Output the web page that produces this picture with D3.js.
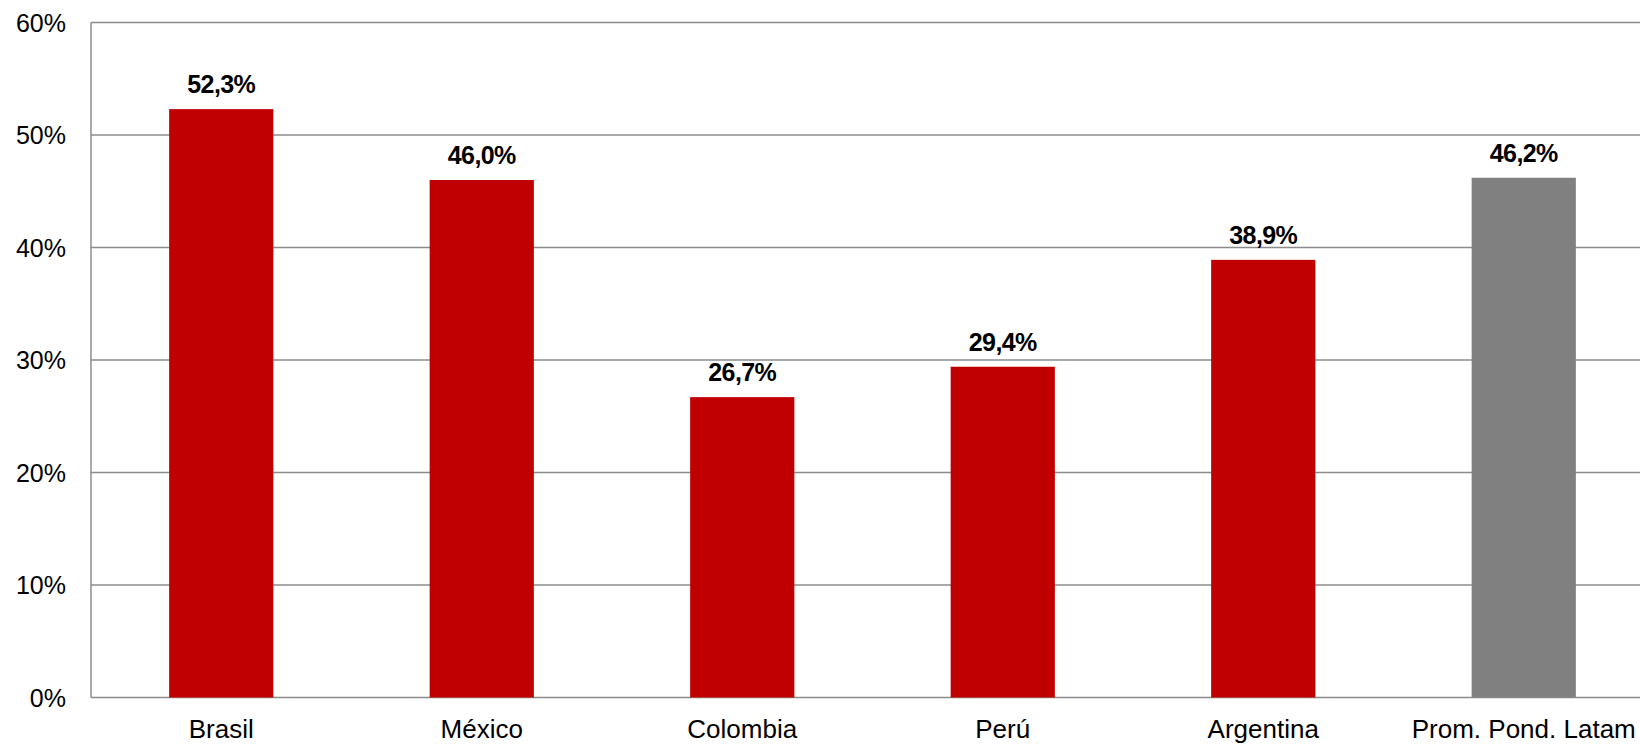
<!DOCTYPE html>
<html>
<head>
<meta charset="utf-8">
<script src="https://cdn.jsdelivr.net/npm/d3@7"></script>
<style>
  body { margin: 0; background: #fff; }
  svg { display: block; font-family: "Liberation Sans", Arial, sans-serif; }
</style>
</head>
<body>
<svg id="chart" width="1640" height="744"></svg>
<script>
const categories = ["Brasil", "México", "Colombia", "Perú", "Argentina", "Prom. Pond. Latam"];
const values = [52.3, 46.0, 26.7, 29.4, 38.9, 46.2];
const valueLabels = ["52,3%", "46,0%", "26,7%", "29,4%", "38,9%", "46,2%"];
const yTicks = [0, 10, 20, 30, 40, 50, 60];

const data = categories.map((c, i) => ({ name: c, value: values[i], label: valueLabels[i] }));

const svg = d3.select("#chart");
const plotLeft = 91, plotRight = 1654, plotTop = 22.5, plotBottom = 697.5;

const x = d3.scaleBand()
    .domain(categories)
    .range([plotLeft, plotRight])
    .paddingInner(0.6)
    .paddingOuter(0.3);

const y = d3.scaleLinear()
    .domain([0, 60])
    .range([plotBottom, plotTop]);

// gridlines
svg.append("g")
    .selectAll("line")
    .data(yTicks)
    .enter()
    .append("line")
    .attr("x1", plotLeft)
    .attr("x2", plotRight)
    .attr("y1", d => y(d))
    .attr("y2", d => y(d))
    .style("stroke", "#8c8c8c")
    .style("stroke-width", "1.5px");

// left axis line
svg.append("line")
    .attr("x1", plotLeft).attr("x2", plotLeft)
    .attr("y1", plotTop).attr("y2", plotBottom)
    .style("stroke", "#8c8c8c")
    .style("stroke-width", "1.5px");

// y tick labels
svg.append("g")
    .selectAll("text")
    .data(yTicks)
    .enter()
    .append("text")
    .attr("x", 66)
    .attr("y", d => y(d))
    .attr("text-anchor", "end")
    .attr("dominant-baseline", "central")
    .style("font-size", "25px")
    .style("fill", "#000")
    .text(d => d + "%");

// bars
svg.append("g")
    .selectAll("rect")
    .data(data)
    .enter()
    .append("rect")
    .attr("x", d => x(d.name))
    .attr("y", d => y(d.value))
    .attr("width", x.bandwidth())
    .attr("height", d => y(0) - y(d.value))
    .style("fill", (d, i) => i === data.length - 1 ? "#808080" : "#c00000");

// value labels
svg.append("g")
    .selectAll("text")
    .data(data)
    .enter()
    .append("text")
    .attr("x", d => x(d.name) + x.bandwidth() / 2)
    .attr("y", d => y(d.value) - 16)
    .attr("text-anchor", "middle")
    .style("font-size", "25px")
    .style("font-weight", "bold")
    .style("letter-spacing", "-0.6px")
    .style("fill", "#000")
    .text(d => d.label);

// category labels
svg.append("g")
    .selectAll("text")
    .data(data)
    .enter()
    .append("text")
    .attr("x", d => x(d.name) + x.bandwidth() / 2)
    .attr("y", 737.5)
    .attr("text-anchor", "middle")
    .style("font-size", "26px")
    .style("fill", "#000")
    .text(d => d.name);
</script>
</body>
</html>
